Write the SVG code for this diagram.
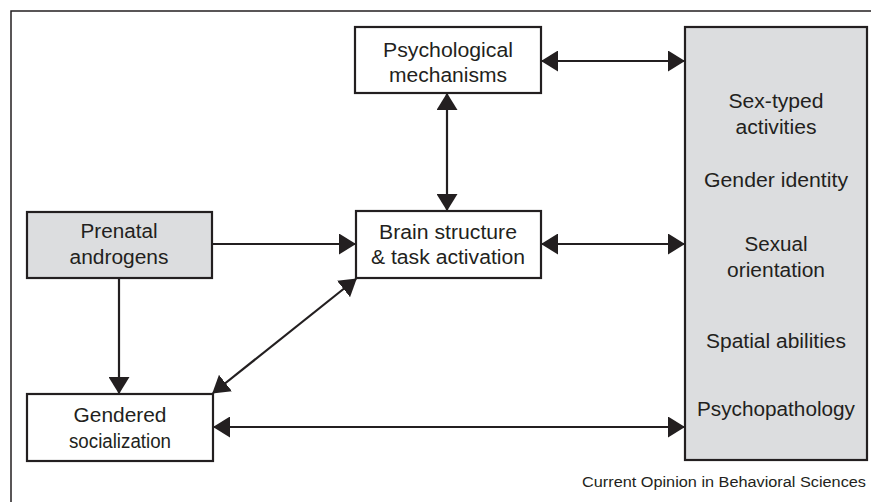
<svg xmlns="http://www.w3.org/2000/svg" width="871" height="502" viewBox="0 0 871 502">
<defs>
<marker id="ah" markerUnits="userSpaceOnUse" markerWidth="17" markerHeight="21" refX="16" refY="10.5" orient="auto-start-reverse" viewBox="0 0 17 21">
<path d="M0,0 L17,10.5 L0,21 Z" fill="#231f20"/>
</marker>
<style>
.box{fill:#ffffff;stroke:#231f20;stroke-width:2.2}
.gray{fill:#dcdddf;stroke:#231f20;stroke-width:2.2}
.t{font-family:"Liberation Sans",Arial,sans-serif;font-size:20px;fill:#231f20;text-anchor:middle}
.c{fill:none;stroke:#231f20;stroke-width:2.2}
.both{marker-start:url(#ah);marker-end:url(#ah)}
.end{marker-end:url(#ah)}
</style>
</defs>
<rect width="871" height="502" fill="#ffffff"/>
<path d="M11,502 V11 H871" fill="none" stroke="#231f20" stroke-width="1.5"/>

<g id="connectors">
<line class="c both" x1="542" y1="61" x2="684" y2="61"/>
<line class="c both" x1="447" y1="94" x2="447" y2="210"/>
<line class="c end" x1="213" y1="244" x2="355" y2="244"/>
<line class="c both" x1="542" y1="244" x2="684" y2="244"/>
<line class="c end" x1="119" y1="279" x2="119" y2="393"/>
<line class="c both" x1="213" y1="393" x2="356" y2="279"/>
<line class="c both" x1="214" y1="427" x2="684" y2="427"/>
</g>

<g id="psych">
<rect class="box" x="355" y="27" width="186" height="66"/>
<text class="t" x="448" y="57" textLength="130" lengthAdjust="spacingAndGlyphs">Psychological</text>
<text class="t" x="448" y="82" textLength="118" lengthAdjust="spacingAndGlyphs">mechanisms</text>
</g>

<g id="prenatal">
<rect class="gray" x="27" y="212" width="185" height="66"/>
<text class="t" x="119" y="238" textLength="77" lengthAdjust="spacingAndGlyphs">Prenatal</text>
<text class="t" x="119" y="264" textLength="99" lengthAdjust="spacingAndGlyphs">androgens</text>
</g>

<g id="brain">
<rect class="box" x="356" y="211" width="185" height="67"/>
<text class="t" x="448" y="239" textLength="138" lengthAdjust="spacingAndGlyphs">Brain structure</text>
<text class="t" x="448" y="264" textLength="154" lengthAdjust="spacingAndGlyphs">&amp; task activation</text>
</g>

<g id="gendered">
<rect class="box" x="27" y="394" width="186" height="67"/>
<text class="t" x="120" y="422" textLength="93" lengthAdjust="spacingAndGlyphs">Gendered</text>
<text class="t" x="120" y="448" textLength="102" lengthAdjust="spacingAndGlyphs">socialization</text>
</g>

<g id="outcomes">
<rect class="gray" x="685" y="27" width="182" height="433"/>
<text class="t" x="776" y="108" textLength="95" lengthAdjust="spacingAndGlyphs">Sex-typed</text>
<text class="t" x="776" y="134" textLength="81" lengthAdjust="spacingAndGlyphs">activities</text>
<text class="t" x="776" y="187" textLength="144" lengthAdjust="spacingAndGlyphs">Gender identity</text>
<text class="t" x="776" y="251" textLength="63" lengthAdjust="spacingAndGlyphs">Sexual</text>
<text class="t" x="776" y="277" textLength="98" lengthAdjust="spacingAndGlyphs">orientation</text>
<text class="t" x="776" y="348" textLength="140" lengthAdjust="spacingAndGlyphs">Spatial abilities</text>
<text class="t" x="776" y="416" textLength="158" lengthAdjust="spacingAndGlyphs">Psychopathology</text>
</g>

<text x="866" y="487" style="font-family:'Liberation Sans',Arial,sans-serif;font-size:14px;fill:#231f20;text-anchor:end" textLength="284" lengthAdjust="spacingAndGlyphs">Current Opinion in Behavioral Sciences</text>
</svg>
